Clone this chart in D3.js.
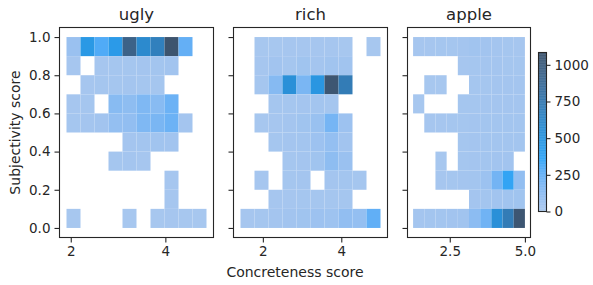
<!DOCTYPE html>
<html>
<head>
<meta charset="utf-8">
<script src="https://cdn.jsdelivr.net/npm/d3@7"></script>
<style>
  body { margin: 0; background: #fff; }
  svg { display: block; font-family: "DejaVu Sans", sans-serif; }
  .tick text { fill: #262626; }
</style>
</head>
<body>
<div id="chart"></div>
<script>
// facets (one word each)
var words = ['ugly', 'rich', 'apple'];

// first bin edge and bin width of the concreteness axis, per facet
var xBinStart = [1.91, 1.43, 1.28];
var xBinWidth = [0.296, 0.357, 0.372];

// subjectivity bins: 10 bins of 0.1 from 0 to 1
var yBinStart = 0, yBinWidth = 0.1;

// counts per cell, rows from top (0.9-1.0) to bottom (0.0-0.1), 10 columns each
var countsUgly = [
  [75, 470, 300, 450, 950, 600, 690, 1080, 250, 0],
  [28, 0, 28, 30, 32, 34, 40, 45, 0, 0],
  [0, 26, 30, 32, 36, 30, 32, 0, 0, 0],
  [28, 32, 0, 140, 120, 170, 140, 230, 0, 0],
  [32, 36, 45, 100, 110, 170, 190, 230, 36, 0],
  [0, 0, 0, 0, 36, 40, 50, 45, 0, 0],
  [0, 0, 0, 32, 36, 28, 0, 0, 0, 0],
  [0, 0, 0, 0, 0, 0, 0, 28, 0, 0],
  [0, 0, 0, 0, 0, 0, 0, 28, 0, 0],
  [25, 0, 0, 0, 25, 0, 25, 28, 25, 25]
];
var countsRich = [
  [0, 25, 25, 28, 28, 28, 28, 25, 0, 22],
  [0, 28, 45, 32, 55, 38, 50, 50, 0, 0],
  [0, 30, 150, 540, 190, 490, 1060, 720, 0, 0],
  [0, 0, 32, 32, 36, 40, 32, 0, 0, 0],
  [0, 25, 28, 36, 55, 80, 200, 65, 0, 0],
  [0, 0, 32, 36, 40, 65, 100, 45, 0, 0],
  [0, 0, 0, 32, 36, 55, 120, 75, 0, 0],
  [0, 28, 0, 32, 36, 0, 36, 40, 32, 0],
  [0, 0, 28, 28, 32, 32, 32, 32, 0, 0],
  [28, 32, 36, 45, 55, 65, 60, 110, 100, 260]
];
var countsApple = [
  [28, 28, 32, 32, 36, 50, 45, 36, 32, 28],
  [0, 0, 0, 0, 28, 32, 36, 36, 32, 32],
  [0, 25, 25, 0, 0, 32, 32, 36, 36, 36],
  [25, 0, 0, 0, 32, 32, 36, 36, 36, 36],
  [0, 28, 28, 32, 32, 36, 40, 40, 40, 40],
  [0, 0, 0, 0, 32, 36, 40, 40, 40, 40],
  [0, 0, 25, 0, 32, 36, 40, 45, 45, 0],
  [0, 0, 28, 32, 36, 40, 70, 210, 370, 110],
  [0, 0, 0, 0, 0, 36, 40, 45, 50, 55],
  [36, 40, 40, 45, 50, 130, 220, 540, 720, 1060]
];
var allCounts = [countsUgly, countsRich, countsApple];

var xTicks = [[2, 4], [2, 4], [2.5, 5.0]];
var xTickFormat = ['d', 'd', '.1f'];
var yTicks = [0, 0.2, 0.4, 0.6, 0.8, 1.0];
var cbarTicks = [0, 250, 500, 750, 1000];
var cbarMax = 1084;

// ---- husl colour ramp (as seaborn builds it from one seed colour) ----
var M = [[3.2406, -1.5372, -0.4986], [-0.9689, 1.8758, 0.0415], [0.0557, -0.2040, 1.0570]];
var MINV = [[0.4124, 0.3576, 0.1805], [0.2126, 0.7152, 0.0722], [0.0193, 0.1192, 0.9505]];
var refU = 0.19784, refV = 0.46834;

function maxChroma(L, H){
  var hr = H * Math.PI / 180, sinH = Math.sin(hr), cosH = Math.cos(hr);
  var sub1 = Math.pow(L + 16, 3) / 1560896;
  var sub2 = sub1 > 0.008856 ? sub1 : L / 903.3;
  var result = Infinity;
  M.forEach(function(row){
    var m1 = row[0], m2 = row[1], m3 = row[2];
    var tp = (0.99915 * m1 + 1.05122 * m2 + 1.14460 * m3) * sub2;
    var rb = 0.86330 * m3 - 0.17266 * m2;
    var lb = 0.12949 * m3 - 0.38848 * m1;
    var bt = (rb * sinH + lb * cosH) * sub2;
    [0, 1].forEach(function(t){
      var C = L * (tp - 1.05122 * t) / (bt + 0.17266 * sinH * t);
      if(C > 0 && C < result) result = C;
    });
  });
  return result;
}
function fInv(t){ return Math.pow(t, 3) > 0.008856 ? Math.pow(t, 3) : (116 * t - 16) / 903.3; }
function fwd(t){ return t > 0.008856 ? Math.pow(t, 1/3) : 7.787 * t + 16/116; }
function fromLin(c){ return c <= 0.0031308 ? 12.92 * c : 1.055 * Math.pow(c, 1/2.4) - 0.055; }
function toLin(c){ return c > 0.04045 ? Math.pow((c + 0.055) / 1.055, 2.4) : c / 12.92; }
function dot(a, b){ return a[0]*b[0] + a[1]*b[1] + a[2]*b[2]; }

function huslToRgb(H, S, L){
  if(L > 99.9999) return [1, 1, 1];
  if(L < 0.00001) return [0, 0, 0];
  var C = maxChroma(L, H) / 100 * S;
  var hr = H * Math.PI / 180;
  var U = Math.cos(hr) * C, V = Math.sin(hr) * C;
  var Y = fInv((L + 16) / 116);
  var vu = U / (13 * L) + refU, vv = V / (13 * L) + refV;
  var X = 0 - (9 * Y * vu) / ((vu - 4) * vv - vu * vv);
  var Z = (9 * Y - 15 * vv * Y - vv * X) / (3 * vv);
  return M.map(function(row){ return Math.min(1, Math.max(0, fromLin(dot(row, [X, Y, Z])))); });
}
function rgbToHusl(r, g, b){
  var xyz = MINV.map(function(row){ return dot(row, [toLin(r), toLin(g), toLin(b)]); });
  var X = xyz[0], Y = xyz[1], Z = xyz[2];
  var den = X + 15 * Y + 3 * Z;
  var L = 116 * fwd(Y) - 16;
  var U = 13 * L * (4 * X / den - refU), V = 13 * L * (9 * Y / den - refV);
  var C = Math.sqrt(U * U + V * V);
  var H = Math.atan2(V, U) * 180 / Math.PI;
  if(H < 0) H += 360;
  return [H, C / maxChroma(L, H) * 100, L];
}

var seed = d3.rgb('#1f77b4');
var seedHusl = rgbToHusl(seed.r / 255, seed.g / 255, seed.b / 255);
var ramp = [];
var nx = Math.floor(1.15 * 256);
for(var j = 0; j < 256; j++){
  var xx = -1 + j * 2 / (nx - 1);
  var lum = 35 + 45 * j / 255;
  var c = huslToRgb(seedHusl[0], seedHusl[1] * Math.cos(xx), lum);
  ramp.push(d3.rgb(c[0] * 255, c[1] * 255, c[2] * 255).formatHex());
}
ramp.reverse();
function cmap(v){
  var i = Math.floor(v / cbarMax * 256);
  return ramp[Math.max(0, Math.min(255, i))];
}

// ---- layout ----
var W = 593, H = 285;
var plotTop = 27.5, plotBottom = 237.5;
var panelLeft = [59.5, 233.5, 407.5];
var panelRight = [213.5, 387.5, 530.5];
var cbar = { x: 538.5, w: 8, y0: 52.5, y1: 211.5 };
var ink = '#262626';

var svg = d3.select('#chart').append('svg')
  .attr('width', W).attr('height', H);

var yDom = [yBinStart - 0.05, yBinStart + 10 * yBinWidth + 0.05];

function styleAxis(g){
  g.select('.domain').remove();
  g.selectAll('.tick text').attr('font-size', 13.5).attr('font-family', 'DejaVu Sans').attr('fill', ink);
  g.selectAll('.tick line').attr('stroke', ink).attr('stroke-width', 1.1);
}

words.forEach(function(word, p){
  var counts = allCounts[p];
  var x0 = xBinStart[p], bw = xBinWidth[p];
  var x1 = x0 + 10 * bw, span = x1 - x0;

  var x = d3.scaleLinear()
    .domain([x0 - 0.05 * span, x1 + 0.05 * span])
    .range([panelLeft[p], panelRight[p]]);
  var y = d3.scaleLinear().domain(yDom).range([plotBottom, plotTop]);

  var cells = [];
  counts.forEach(function(row, r){
    row.forEach(function(v, ci){
      if(v > 0) cells.push({ col: ci, row: 9 - r, v: v });
    });
  });

  var g = svg.append('g');
  g.selectAll('rect.cell')
    .data(cells)
    .enter().append('rect')
    .classed('cell', true)
    .attr('x', function(d){ return x(x0 + d.col * bw); })
    .attr('width', function(d){ return x(x0 + (d.col + 1) * bw) - x(x0 + d.col * bw); })
    .attr('y', function(d){ return y(yBinStart + (d.row + 1) * yBinWidth); })
    .attr('height', function(d){ return y(yBinStart + d.row * yBinWidth) - y(yBinStart + (d.row + 1) * yBinWidth); })
    .attr('fill', function(d){ return cmap(d.v); });

  var xAxis = d3.axisBottom(x).tickValues(xTicks[p])
    .tickFormat(d3.format(xTickFormat[p])).tickSize(5).tickPadding(4);
  svg.append('g').attr('transform', 'translate(0,' + plotBottom + ')').call(xAxis).call(styleAxis);

  var yAxis = d3.axisLeft(y).tickValues(yTicks)
    .tickFormat(p === 0 ? d3.format('.1f') : '').tickSize(5).tickPadding(4);
  svg.append('g').attr('transform', 'translate(' + panelLeft[p] + ',0)').call(yAxis).call(styleAxis);

  svg.append('rect')
    .attr('x', panelLeft[p]).attr('y', plotTop)
    .attr('width', panelRight[p] - panelLeft[p]).attr('height', plotBottom - plotTop)
    .attr('fill', 'none').attr('stroke', ink).attr('stroke-width', 1.1);

  svg.append('text')
    .attr('x', (panelLeft[p] + panelRight[p]) / 2).attr('y', 20)
    .attr('text-anchor', 'middle').attr('font-size', 16.5).attr('fill', ink)
    .text(word);
});

// colorbar
var cy = d3.scaleLinear().domain([0, cbarMax]).range([cbar.y1, cbar.y0]);
var cg = svg.append('g');
cg.selectAll('rect')
  .data(d3.range(256))
  .enter().append('rect')
  .attr('x', cbar.x).attr('width', cbar.w)
  .attr('y', function(i){ return cy((i + 1) / 256 * cbarMax); })
  .attr('height', function(i){ return cy(i / 256 * cbarMax) - cy((i + 1) / 256 * cbarMax) + 0.3; })
  .attr('fill', function(i){ return ramp[i]; });
cg.append('rect')
  .attr('x', cbar.x).attr('y', cbar.y0).attr('width', cbar.w).attr('height', cbar.y1 - cbar.y0)
  .attr('fill', 'none').attr('stroke', ink).attr('stroke-width', 1.1);
svg.append('g').attr('transform', 'translate(' + (cbar.x + cbar.w) + ',0)')
  .call(d3.axisRight(cy).tickValues(cbarTicks).tickFormat(d3.format('d')).tickSize(4).tickPadding(4))
  .call(styleAxis);

// axis labels
svg.append('text')
  .attr('x', (panelLeft[0] + panelRight[2]) / 2).attr('y', 277)
  .attr('text-anchor', 'middle').attr('font-size', 14).attr('fill', ink)
  .text('Concreteness score');
svg.append('text')
  .attr('transform', 'translate(20,' + ((plotTop + plotBottom) / 2) + ') rotate(-90)')
  .attr('text-anchor', 'middle').attr('font-size', 14).attr('fill', ink)
  .text('Subjectivity score');
</script>
</body>
</html>
